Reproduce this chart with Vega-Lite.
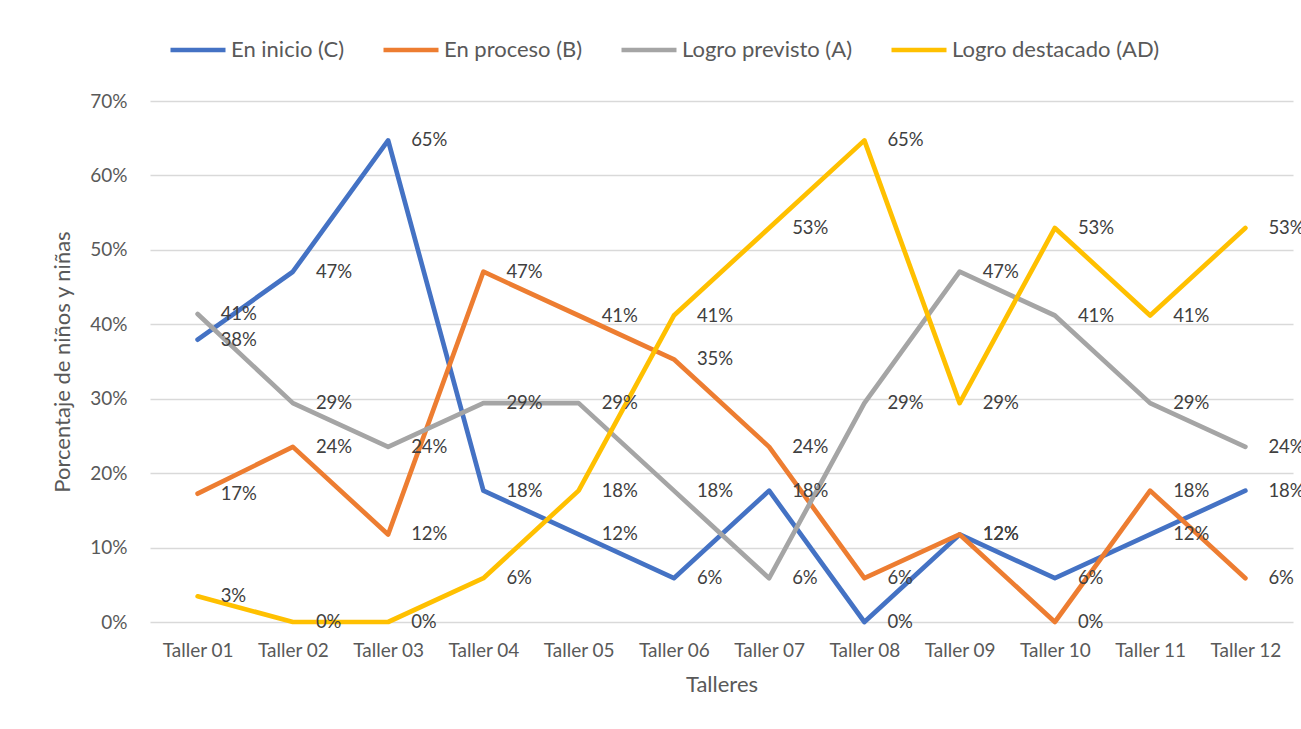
{
  "$schema": "https://vega.github.io/schema/vega-lite/v6.json",
  "width": 1143,
  "height": 521,
  "autosize": {"type": "none"},
  "padding": {"left": 150, "top": 101, "right": 8, "bottom": 107},
  "background": "white",
  "data": {
    "values": [
      {"taller": "Taller 01", "serie": "En inicio (C)", "valor": 0.3793},
      {"taller": "Taller 02", "serie": "En inicio (C)", "valor": 0.4706},
      {"taller": "Taller 03", "serie": "En inicio (C)", "valor": 0.6471},
      {"taller": "Taller 04", "serie": "En inicio (C)", "valor": 0.1765},
      {"taller": "Taller 05", "serie": "En inicio (C)", "valor": 0.1176},
      {"taller": "Taller 06", "serie": "En inicio (C)", "valor": 0.0588},
      {"taller": "Taller 07", "serie": "En inicio (C)", "valor": 0.1765},
      {"taller": "Taller 08", "serie": "En inicio (C)", "valor": 0},
      {"taller": "Taller 09", "serie": "En inicio (C)", "valor": 0.1176},
      {"taller": "Taller 10", "serie": "En inicio (C)", "valor": 0.0588},
      {"taller": "Taller 11", "serie": "En inicio (C)", "valor": 0.1176},
      {"taller": "Taller 12", "serie": "En inicio (C)", "valor": 0.1765},
      {"taller": "Taller 01", "serie": "En proceso (B)", "valor": 0.1724},
      {"taller": "Taller 02", "serie": "En proceso (B)", "valor": 0.2353},
      {"taller": "Taller 03", "serie": "En proceso (B)", "valor": 0.1176},
      {"taller": "Taller 04", "serie": "En proceso (B)", "valor": 0.4706},
      {"taller": "Taller 05", "serie": "En proceso (B)", "valor": 0.4118},
      {"taller": "Taller 06", "serie": "En proceso (B)", "valor": 0.3529},
      {"taller": "Taller 07", "serie": "En proceso (B)", "valor": 0.2353},
      {"taller": "Taller 08", "serie": "En proceso (B)", "valor": 0.0588},
      {"taller": "Taller 09", "serie": "En proceso (B)", "valor": 0.1176},
      {"taller": "Taller 10", "serie": "En proceso (B)", "valor": 0},
      {"taller": "Taller 11", "serie": "En proceso (B)", "valor": 0.1765},
      {"taller": "Taller 12", "serie": "En proceso (B)", "valor": 0.0588},
      {"taller": "Taller 01", "serie": "Logro previsto (A)", "valor": 0.4138},
      {"taller": "Taller 02", "serie": "Logro previsto (A)", "valor": 0.2941},
      {"taller": "Taller 03", "serie": "Logro previsto (A)", "valor": 0.2353},
      {"taller": "Taller 04", "serie": "Logro previsto (A)", "valor": 0.2941},
      {"taller": "Taller 05", "serie": "Logro previsto (A)", "valor": 0.2941},
      {"taller": "Taller 06", "serie": "Logro previsto (A)", "valor": 0.1765},
      {"taller": "Taller 07", "serie": "Logro previsto (A)", "valor": 0.0588},
      {"taller": "Taller 08", "serie": "Logro previsto (A)", "valor": 0.2941},
      {"taller": "Taller 09", "serie": "Logro previsto (A)", "valor": 0.4706},
      {"taller": "Taller 10", "serie": "Logro previsto (A)", "valor": 0.4118},
      {"taller": "Taller 11", "serie": "Logro previsto (A)", "valor": 0.2941},
      {"taller": "Taller 12", "serie": "Logro previsto (A)", "valor": 0.2353},
      {"taller": "Taller 01", "serie": "Logro destacado (AD)", "valor": 0.0345},
      {"taller": "Taller 02", "serie": "Logro destacado (AD)", "valor": 0},
      {"taller": "Taller 03", "serie": "Logro destacado (AD)", "valor": 0},
      {"taller": "Taller 04", "serie": "Logro destacado (AD)", "valor": 0.0588},
      {"taller": "Taller 05", "serie": "Logro destacado (AD)", "valor": 0.1765},
      {"taller": "Taller 06", "serie": "Logro destacado (AD)", "valor": 0.4118},
      {"taller": "Taller 07", "serie": "Logro destacado (AD)", "valor": 0.5294},
      {"taller": "Taller 08", "serie": "Logro destacado (AD)", "valor": 0.6471},
      {"taller": "Taller 09", "serie": "Logro destacado (AD)", "valor": 0.2941},
      {"taller": "Taller 10", "serie": "Logro destacado (AD)", "valor": 0.5294},
      {"taller": "Taller 11", "serie": "Logro destacado (AD)", "valor": 0.4118},
      {"taller": "Taller 12", "serie": "Logro destacado (AD)", "valor": 0.5294}
    ]
  },
  "encoding": {
    "x": {
      "field": "taller",
      "type": "nominal",
      "scale": {"type": "point", "padding": 0.5},
      "axis": {
        "title": "Talleres",
        "labelAngle": 0,
        "domain": false,
        "ticks": false,
        "grid": false,
        "labelPadding": 19,
        "labelFontSize": 19,
        "labelColor": "#595959",
        "titleFontSize": 22,
        "titleColor": "#595959",
        "titleFontWeight": "normal",
        "titlePadding": 14
      }
    },
    "y": {
      "field": "valor",
      "type": "quantitative",
      "scale": {"domain": [0, 0.7], "nice": false, "zero": true},
      "axis": {
        "title": "Porcentaje de niños y niñas",
        "values": [0, 0.1, 0.2, 0.3, 0.4, 0.5, 0.6, 0.7],
        "format": ".0%",
        "domain": false,
        "ticks": false,
        "grid": true,
        "gridColor": "#D9D9D9",
        "gridWidth": 1.3,
        "labelPadding": 23,
        "labelFontSize": 19,
        "labelColor": "#595959",
        "titleFontSize": 22,
        "titleColor": "#595959",
        "titleFontWeight": "normal",
        "titlePadding": 15
      }
    }
  },
  "layer": [
    {
      "mark": {"type": "line", "strokeWidth": 4.7, "strokeCap": "round", "strokeJoin": "round"},
      "encoding": {
        "color": {
          "field": "serie",
          "type": "nominal",
          "sort": ["En inicio (C)", "En proceso (B)", "Logro previsto (A)", "Logro destacado (AD)"],
          "scale": {
            "domain": ["En inicio (C)", "En proceso (B)", "Logro previsto (A)", "Logro destacado (AD)"],
            "range": ["#4472C4", "#ED7D31", "#A5A5A5", "#FFC000"]
          },
          "legend": {
            "title": null,
            "orient": "none",
            "direction": "horizontal",
            "legendX": 18,
            "legendY": -81,
            "padding": 0,
            "symbolType": "stroke",
            "symbolSize": 3025,
            "symbolStrokeWidth": 4.7,
            "labelOffset": 3,
            "labelFontSize": 22,
            "labelColor": "#595959",
            "columnPadding": 29,
            "labelLimit": 400
          }
        }
      }
    },
    {
      "mark": {"type": "text", "align": "left", "baseline": "middle", "dx": 23, "fontSize": 18.5, "color": "#404040"},
      "encoding": {
        "text": {"field": "valor", "type": "quantitative", "format": ".0%"}
      }
    }
  ],
  "config": {
    "font": "Lato",
    "view": {"stroke": null}
  }
}
